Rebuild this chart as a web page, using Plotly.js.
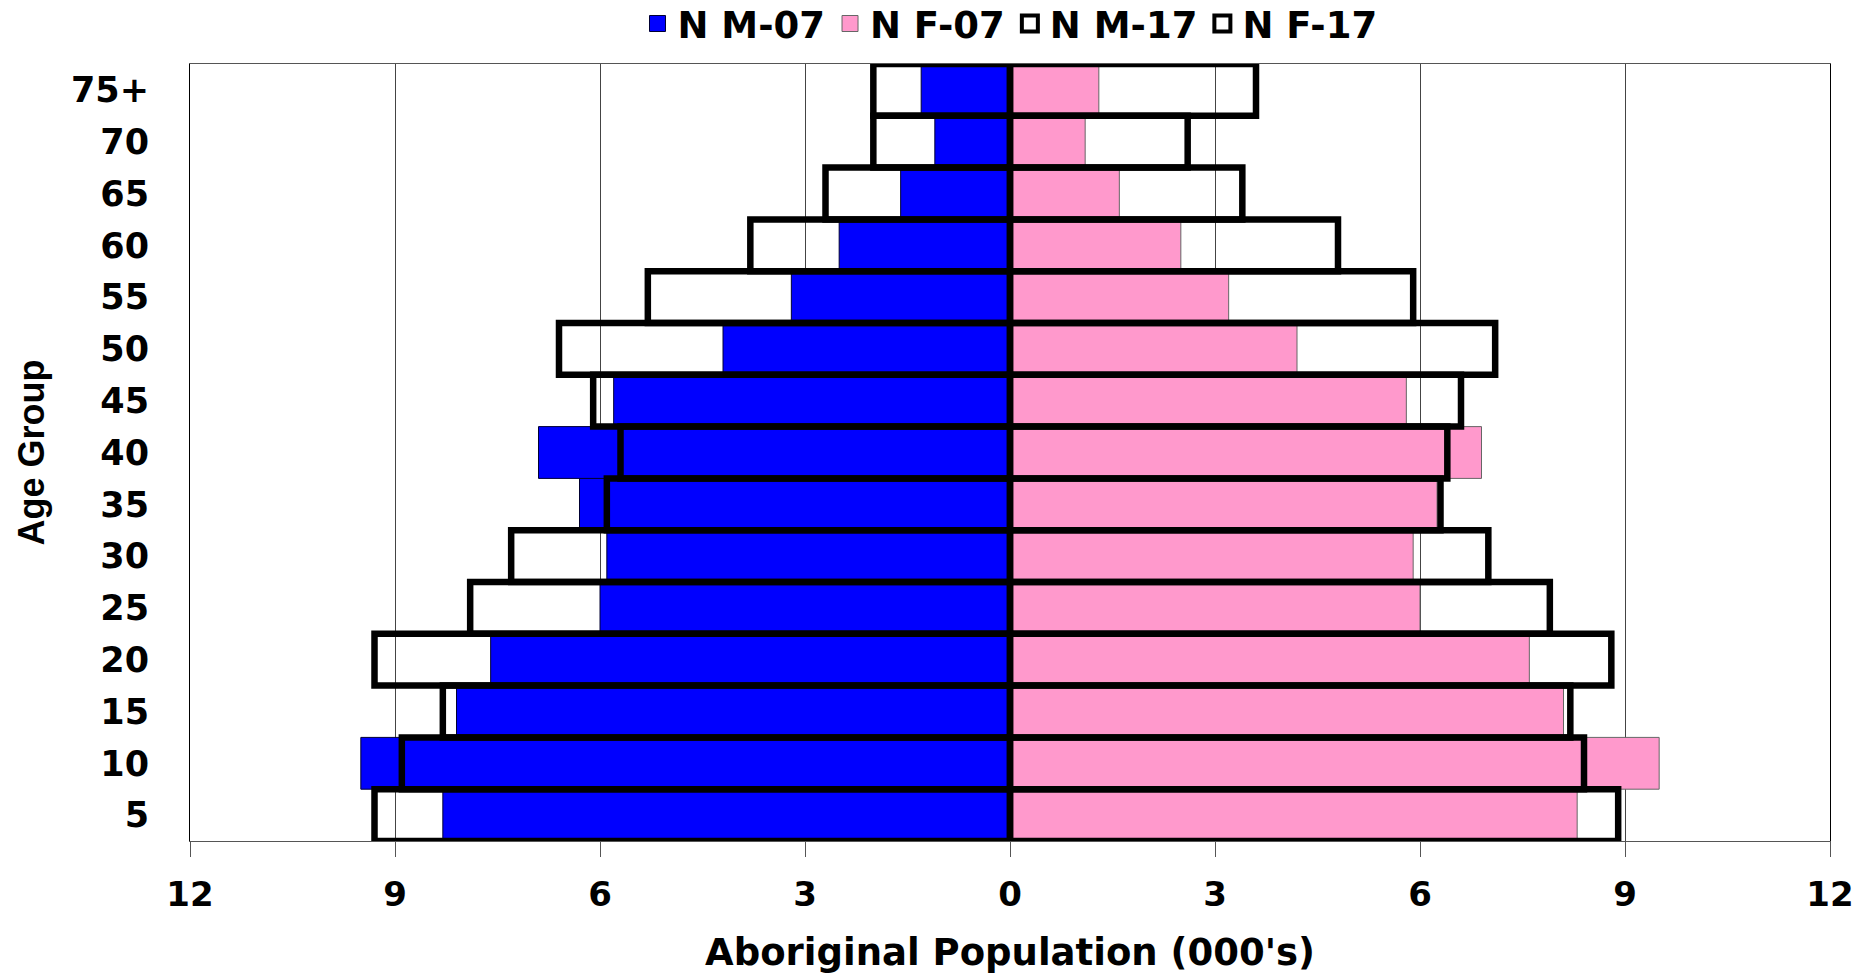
<!DOCTYPE html>
<html>
<head>
<meta charset="utf-8">
<script src="https://cdn.plot.ly/plotly-3.0.1.min.js"></script>
<style>html,body{margin:0;padding:0;background:#fff;}#chart{width:1872px;height:974px;}</style>
</head>
<body>
<div id="chart"></div>
<script>
// Age groups (bottom to top)
const ages = ['5','10','15','20','25','30','35','40','45','50','55','60','65','70','75+'];
// Population in thousands
const male07   = [8.3, 9.5, 8.1, 7.6, 6.0, 5.9, 6.3, 6.9, 5.8, 4.2, 3.2, 2.5, 1.6, 1.1, 1.3];
const female07 = [8.3, 9.5, 8.1, 7.6, 6.0, 5.9, 6.25, 6.9, 5.8, 4.2, 3.2, 2.5, 1.6, 1.1, 1.3];
const male17   = [9.3, 8.9, 8.3, 9.3, 7.9, 7.3, 5.9, 5.7, 6.1, 6.6, 5.3, 3.8, 2.7, 2.0, 2.0];
const female17 = [8.9, 8.4, 8.2, 8.8, 7.9, 7.0, 6.3, 6.4, 6.6, 7.1, 5.9, 4.8, 3.4, 2.6, 3.6];
const seriesNames = ['N M-07', 'N F-07', 'N M-17', 'N F-17'];
const xTickVals = [-12, -9, -6, -3, 0, 3, 6, 9, 12];
const xTickText = ['12', '9', '6', '3', '0', '3', '6', '9', '12'];

const neg = a => a.map(v => -v);
const bold = (size, fam) => ({family: fam || '"DejaVu Sans", Verdana, sans-serif', size: size, color: '#000', weight: 700});

const styles = [
  {fill: '#0000FF', line: '#000033', w: 1, bw: 1},
  {fill: '#FF99CC', line: '#666666', w: 1, bw: 1},
  {fill: 'rgba(255,255,255,0)', line: '#000', w: 4, bw: 6.5},
  {fill: 'rgba(255,255,255,0)', line: '#000', w: 4, bw: 6.5}
];
const values = [neg(male07), female07, neg(male17), female17];

const traces = [];
values.forEach((vals, i) => {
  traces.push({type: 'bar', orientation: 'h', name: seriesNames[i], y: ages, x: vals,
    marker: {color: styles[i].fill, line: {color: styles[i].line, width: styles[i].bw}},
    width: 1, showlegend: false, cliponaxis: i < 2});
});
// legend-only entries (no data) so the legend squares are larger
seriesNames.forEach((nm, i) => {
  traces.push({type: 'scatter', mode: 'markers', name: nm, x: [null], y: [null],
    marker: {symbol: 'square', size: 24, color: styles[i].fill === 'rgba(255,255,255,0)' ? '#fff' : styles[i].fill,
             line: {color: styles[i].line, width: styles[i].w}},
    showlegend: true, hoverinfo: 'skip'});
});

const layout = {
  width: 1872, height: 974,
  margin: {l: 190, r: 42, t: 64, b: 133, pad: 0},
  paper_bgcolor: '#fff', plot_bgcolor: '#fff',
  barmode: 'overlay', bargap: 0,
  showlegend: true,
  legend: {orientation: 'h', xref: 'paper', yref: 'container', x: 0.5, xanchor: 'center',
           y: 0.9754, yanchor: 'middle', itemsizing: 'trace',
           font: bold(37), itemwidth: 30, tracegroupgap: 0, bgcolor: 'rgba(0,0,0,0)'},
  xaxis: {
    range: [-12, 12], tickvals: xTickVals, ticktext: xTickText,
    showgrid: true, gridcolor: '#444', gridwidth: 1,
    zeroline: false, showline: true, linecolor: '#555', linewidth: 1, mirror: true,
    ticks: 'outside', ticklen: 15, tickcolor: '#555', tickwidth: 1,
    ticklabelstandoff: 8,
    tickfont: bold(34),
    title: {text: "Aboriginal Population (000's)", font: bold(37), standoff: 34},
    fixedrange: true
  },
  yaxis: {
    type: 'category', categoryorder: 'array', categoryarray: ages,
    range: [-0.5, 14.5],
    showgrid: false, zeroline: false, showline: true, linecolor: '#000', linewidth: 1, mirror: true,
    ticks: '', ticklabelstandoff: 33,
    tickfont: bold(35),
    title: {text: 'Age Group', font: bold(36, '"Liberation Sans", Arial, sans-serif'), standoff: 15},
    fixedrange: true
  }
};

Plotly.newPlot('chart', traces, layout, {displayModeBar: false, staticPlot: true});
</script>
</body>
</html>
